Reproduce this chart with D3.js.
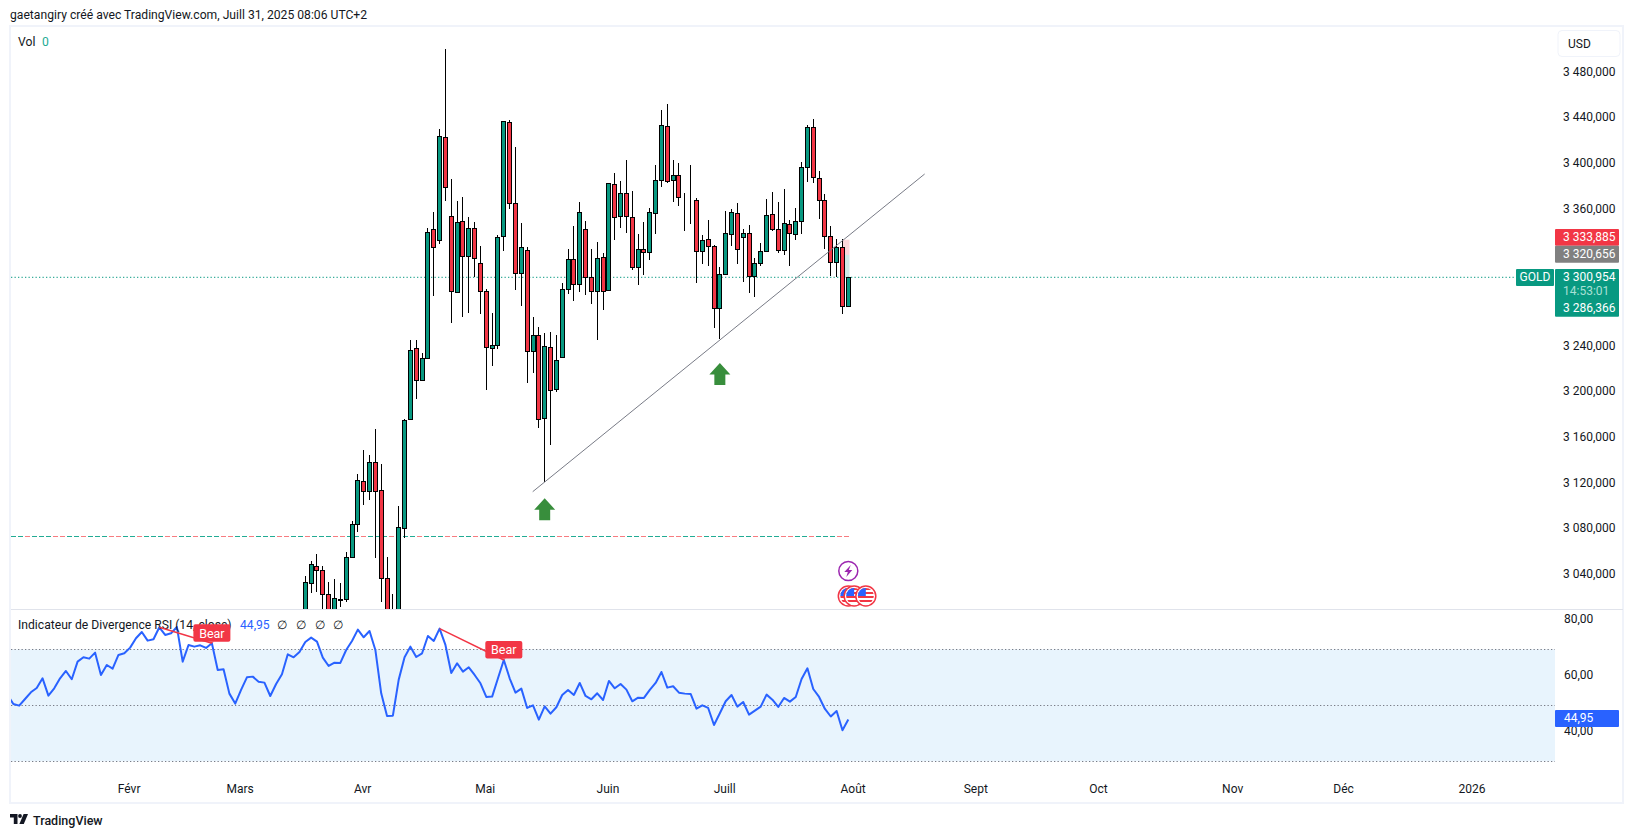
<!DOCTYPE html>
<html>
<head>
<meta charset="utf-8">
<script src="https://d3js.org/d3.v7.min.js"></script>
<style>
  body { margin: 0; background: #fff; }
  svg { display: block; }
  text { font-family: Roboto, "Open Sans", sans-serif; fill: #131722; }
</style>
</head>
<body>
<svg id="chart" width="1634" height="838"></svg>
<script>
// Daily candles, first visible bar = index 0
const opens = [2991.9,3033.3,3047.7,3044.2,3023.1,2996.2,3018.5,3018.7,3056.1,3085.0,
  3122.2,3113.4,3138.8,3114.3,3037.2,3007.6,3007.6,3081.5,3176.5,3238.7,
  3210.7,3230.0,3343.0,3333.4,3423.6,3354.4,3287.8,3350.0,3319.4,3343.9,
  3313.2,3288.7,3238.7,3241.4,3336.9,3436.8,3365.8,3304.5,3324.6,3236.1,
  3250.1,3177.4,3239.6,3203.1,3231.1,3290.4,3316.7,3294.8,3343.0,3301.0,
  3288.7,3318.5,3289.6,3382.5,3354.4,3374.6,3353.5,3309.7,3325.5,3322.9,
  3357.0,3386.0,3433.3,3386.0,3390.3,3368.4,3367.9,3368.4,3323.7,3334.3,
  3328.1,3273.8,3303.6,3338.6,3357.0,3336.5,3339.5,3301.8,3313.2,3323.7,
  3356.2,3343.0,3324.6,3347.4,3338.6,3350.0,3397.4,3432.4,3387.7,3368.4,
  3336.9,3314.1,3327.2,3276.1];
const highs = [3039.2,3052.0,3058.2,3047.7,3033.7,3036.5,3032.8,3059.9,3087.4,3128.6,
  3149.6,3145.2,3168.0,3137.3,3055.8,3023.1,3100.5,3176.8,3246.0,3246.0,
  3234.9,3343.9,3357.9,3430.7,3501.0,3386.8,3367.6,3371.1,3353.5,3349.1,
  3328.1,3290.7,3269.9,3337.8,3438.0,3438.8,3414.9,3348.5,3327.2,3266.2,
  3257.1,3252.1,3253.0,3250.4,3295.7,3325.8,3345.9,3366.7,3350.0,3325.8,
  3331.6,3322.5,3383.3,3392.1,3385.1,3403.5,3376.3,3338.6,3349.1,3361.4,
  3399.1,3447.3,3452.6,3403.5,3400.8,3374.6,3399.1,3370.2,3338.0,3350.9,
  3329.3,3309.7,3358.8,3360.5,3365.8,3343.0,3346.5,3317.6,3330.7,3369.3,
  3375.4,3366.7,3378.1,3351.2,3361.4,3401.7,3434.2,3439.4,3393.8,3373.7,
  3345.9,3334.2,3334.2,3301.5];
const lows = [2983.1,3024.3,3025.2,3005.0,2987.5,2991.9,3012.3,3016.4,3055.0,3077.7,
  3101.4,3105.8,3055.0,3016.6,2987.5,2983.1,3000.6,3072.7,3176.5,3194.6,
  3210.7,3230.0,3284.8,3330.4,3368.1,3261.2,3287.8,3266.4,3269.4,3301.0,
  3268.5,3202.2,3223.5,3238.4,3324.3,3361.1,3289.8,3276.1,3208.6,3217.3,
  3169.1,3121.8,3154.0,3200.4,3230.2,3286.6,3280.4,3288.1,3285.7,3277.8,
  3246.3,3272.6,3289.6,3333.9,3344.4,3340.0,3307.6,3294.5,3303.2,3316.4,
  3339.2,3380.4,3383.9,3367.2,3363.7,3341.8,3347.9,3296.2,3312.9,3311.1,
  3256.8,3246.6,3303.6,3328.4,3312.9,3297.1,3287.5,3283.9,3311.1,3322.9,
  3341.8,3322.0,3320.8,3311.1,3333.4,3339.2,3384.7,3383.3,3352.0,3325.8,
  3302.1,3301.5,3268.8,3275.2];
const closes = [3034.2,3049.4,3044.7,3023.1,2996.2,3020.2,3019.3,3055.6,3084.5,3123.0,
  3113.4,3138.8,3113.9,3037.2,2996.2,2996.2,3081.9,3175.6,3237.0,3210.7,
  3230.0,3340.4,3327.2,3424.5,3379.8,3288.7,3349.1,3319.4,3343.9,3317.6,
  3288.7,3239.6,3241.6,3336.0,3437.7,3365.8,3304.5,3327.2,3236.1,3250.1,
  3176.5,3240.5,3201.9,3228.5,3290.4,3316.7,3294.8,3357.9,3301.0,3288.7,
  3317.6,3288.7,3383.3,3353.5,3374.6,3354.4,3309.7,3325.5,3322.9,3357.9,
  3386.0,3434.2,3385.1,3390.3,3371.1,3368.6,3367.6,3323.7,3333.4,3328.1,
  3273.8,3303.6,3339.5,3357.9,3325.5,3339.5,3301.8,3313.2,3323.7,3355.3,
  3343.0,3324.6,3348.3,3339.5,3350.0,3397.4,3432.4,3388.6,3368.4,3336.9,
  3314.1,3327.2,3276.1,3301.0];

// RSI(14), starts 51 bars before index 0
const rsiStart = -51;
const rsiValues = [53.69,50.48,49.88,52.26,54.64,56.19,59.64,53.45,56.07,59.64,
  62.26,59.29,65.60,67.14,66.67,68.81,60.83,64.40,63.10,67.98,
  68.57,70.60,73.93,76.19,73.10,73.57,77.86,75.12,75.71,77.98,
  65.60,71.55,70.95,71.43,70.48,72.14,62.62,62.86,54.17,50.60,
  55.48,60.00,60.24,58.45,58.10,53.33,57.62,61.07,68.21,67.14,
  69.05,72.62,74.17,72.74,67.02,64.05,65.24,65.12,69.76,72.98,
  77.02,74.29,76.55,69.76,54.29,46.19,46.31,59.17,67.14,70.95,
  67.26,68.57,74.76,72.98,77.38,71.55,61.55,65.00,62.02,63.57,
  60.83,57.86,52.98,53.10,59.64,66.19,59.64,54.52,55.95,49.05,
  50.00,44.88,49.64,47.02,49.29,53.69,55.48,53.69,57.98,53.33,
  52.14,54.29,51.90,58.69,56.07,57.62,55.60,51.43,52.74,52.62,
  55.48,57.98,61.90,56.31,56.79,54.52,54.17,54.05,48.81,50.00,
  49.05,42.98,47.14,51.43,53.69,49.52,51.19,46.67,48.10,49.52,
  53.81,52.02,49.40,52.62,51.31,52.98,59.40,63.21,55.83,52.98,
  48.69,46.00,47.98,41.07,44.95];

const priceTicks = [3480, 3440, 3400, 3360, 3240, 3200, 3160, 3120, 3080, 3040];
const rsiTicks = [80, 60, 40];
const rsiLevels = [70, 50, 30];
const monthLabels = ["Févr", "Mars", "Avr", "Mai", "Juin", "Juill", "Août", "Sept", "Oct", "Nov", "Déc", "2026"];
const monthBars = [-30, -11, 10, 31, 52, 72, 94, 115, 136, 159, 178, 200];

const lastPrice = 3300.954;
const stopPrice = 3333.885;
const entryPrice = 3320.656;
const targetPrice = 3286.366;
const supportPrices = [3073.97];
const trendBars = [38.95, 106.08];
const trendPrices = [3113.06, 3391.49];
const arrowBars = [41, 71];
const arrowPrices = [3107.3, 3225.85];
const bearFrom = [-25, 23];
const bearTo = [-16, 34];
const flagBars = [93, 94, 96];

const red = "#f23645", green = "#089981", blue = "#2962ff";

// Panes
const W = 1634, left = 11, right = 1555, axisEnd = 1623;
const mainTop = 27, mainBottom = 609, rsiBottom = 803;

const svg = d3.select("#chart");
const defs = svg.append("defs");
defs.append("clipPath").attr("id", "clipMain").append("rect")
  .attr("x", left).attr("y", mainTop).attr("width", right - left).attr("height", mainBottom - mainTop);
defs.append("clipPath").attr("id", "clipRsi").append("rect")
  .attr("x", left).attr("y", mainBottom).attr("width", right - left).attr("height", 160);

// Scales
const x = d3.scaleLinear().domain([0, 93]).range([305.3, 848.3]);
const y = d3.scaleLinear().domain([3300.954, 3480]).range([277.3, 73.0]);
const yRsi = d3.scaleLinear().domain([30, 70]).range([761.3, 649.3]);
const px = i => Math.round(x(i) - 0.5) + 0.5;

const bars = d3.range(opens.length).map(i => ({
  i, open: opens[i], high: highs[i], low: lows[i], close: closes[i]
}));

// Frame
const frame = svg.append("g").attr("stroke", "#f0f3fa").attr("stroke-width", 2).attr("fill", "none");
frame.append("rect").attr("x", left - 1).attr("y", mainTop - 1)
  .attr("width", axisEnd - left + 1).attr("height", rsiBottom - mainTop + 1);
svg.append("line").attr("x1", left).attr("x2", axisEnd).attr("y1", mainBottom + 0.5).attr("y2", mainBottom + 0.5)
  .attr("stroke", "#e0e3eb");

svg.append("text").attr("x", 10).attr("y", 19).attr("font-size", 12.15)
  .text("gaetangiry créé avec TradingView.com, Juill 31, 2025 08:06 UTC+2");

// Main pane
const main = svg.append("g").attr("clip-path", "url(#clipMain)");

main.append("line").attr("x1", left).attr("x2", 1516)
  .attr("y1", y(lastPrice)).attr("y2", y(lastPrice))
  .attr("stroke", green).attr("stroke-dasharray", "1.3 2.2");

supportPrices.forEach(p => {
  const ly = Math.round(y(p)) + 0.5;
  main.append("line").attr("x1", left).attr("x2", 851).attr("y1", ly).attr("y2", ly)
    .attr("stroke", "#f77c80").attr("stroke-dasharray", "5 2");
  main.append("line").attr("x1", left).attr("x2", 851).attr("y1", ly).attr("y2", ly)
    .attr("stroke", "#22ab94").attr("stroke-dasharray", "5 2 5 9 5 2 5 2 5 16");
});

// Position tool shading behind the last bar
main.append("rect").attr("x", px(92)).attr("width", px(93) - px(92) + 1)
  .attr("y", y(stopPrice)).attr("height", y(entryPrice) - y(stopPrice)).attr("fill", "#f23645").attr("opacity", 0.2);
main.append("rect").attr("x", px(92)).attr("width", px(93) - px(92) + 1)
  .attr("y", y(entryPrice)).attr("height", y(lastPrice) - y(entryPrice)).attr("fill", "#089981").attr("opacity", 0.2);

// Candles
const candles = main.selectAll("g.candle").data(bars).enter().append("g").attr("class", "candle");
candles.append("line")
  .attr("x1", d => px(d.i)).attr("x2", d => px(d.i))
  .attr("y1", d => y(d.high)).attr("y2", d => y(d.low))
  .attr("stroke", "#000").attr("shape-rendering", "crispEdges");
candles.append("rect")
  .attr("x", d => px(d.i) - 2).attr("width", 4)
  .attr("y", d => Math.round(y(Math.max(d.open, d.close))) + 0.5)
  .attr("height", d => Math.max(0, Math.round(y(Math.min(d.open, d.close))) - Math.round(y(Math.max(d.open, d.close)))))
  .attr("fill", d => d.close >= d.open ? green : red)
  .attr("stroke", "#000").attr("shape-rendering", "crispEdges");

// Trend line
main.append("line")
  .attr("x1", x(trendBars[0])).attr("y1", y(trendPrices[0]))
  .attr("x2", x(trendBars[1])).attr("y2", y(trendPrices[1]))
  .attr("stroke", "#787b86").attr("stroke-width", 1);

// Arrows
main.selectAll("path.arrow").data(arrowBars).enter().append("path")
  .attr("class", "arrow")
  .attr("transform", (d, k) => `translate(${x(d)},${y(arrowPrices[k])})`)
  .attr("d", "M0,0L10.5,11.5L5.5,11.5L5.5,22L-5.5,22L-5.5,11.5L-10.5,11.5Z")
  .attr("fill", "#388e3c");

// Event icons at the foot of the pane
const flagG = main.selectAll("g.flag").data(flagBars).enter().append("g")
  .attr("class", "flag")
  .attr("transform", d => `translate(${x(d)},596)`);
defs.append("clipPath").attr("id", "clipFlag").append("circle").attr("r", 8);
flagG.append("circle").attr("r", 10).attr("fill", "#fff").attr("stroke", "#f23645").attr("stroke-width", 1.5);
const flagIn = flagG.append("g").attr("clip-path", "url(#clipFlag)");
flagIn.selectAll("rect.stripe").data([-8, -4, 0, 4]).enter().append("rect")
  .attr("class", "stripe").attr("x", -9).attr("y", d => d).attr("width", 18).attr("height", 2).attr("fill", "#f23645");
flagIn.append("rect").attr("x", -9).attr("y", -9).attr("width", 9).attr("height", 9).attr("fill", "#2962ff");

const bolt = main.append("g").attr("transform", `translate(${x(93)},571)`);
bolt.append("circle").attr("r", 9.5).attr("fill", "#fff").attr("stroke", "#9c27b0").attr("stroke-width", 1.5);
bolt.append("path").attr("d", "M2.5,-6L-4,1L-0.5,1L-2,6L4,-1L0.5,-1Z").attr("fill", "#9c27b0");

// Main pane legend
svg.append("text").attr("x", 18).attr("y", 46).attr("font-size", 12.15).text("Vol");
svg.append("text").attr("x", 42).attr("y", 46).attr("font-size", 12.15).style("fill", "#22ab94").text("0");

// Price axis
const fmtPrice = v => d3.format(",.3f")(v).replace(",", " ").replace(".", ",");
const yAxis = d3.axisRight(y).tickValues(priceTicks).tickSize(0).tickPadding(0).tickFormat(fmtPrice);
const yAxisG = svg.append("g").attr("transform", "translate(1563,-1.6)").call(yAxis);
yAxisG.select(".domain").remove();
yAxisG.selectAll("text").attr("font-size", 12).attr("font-family", null);

// USD box
svg.append("rect").attr("x", 1558).attr("y", 30.5).attr("width", 62).attr("height", 26).attr("rx", 4)
  .attr("fill", "#fff").attr("stroke", "#f0f3fa");
svg.append("text").attr("x", 1568).attr("y", 48).attr("font-size", 12).text("USD");

// Price tags
const tag = (tx, ty, tw, th, color) => svg.append("rect").attr("x", tx).attr("y", ty).attr("width", tw).attr("height", th).attr("rx", 1).attr("fill", color);
const tagText = (tx, cy, s, color, anchor) => svg.append("text").attr("x", tx).attr("y", cy).attr("dy", "0.36em")
  .attr("font-size", 12).attr("text-anchor", anchor || "start").style("fill", color || "#fff").text(s);
tag(1555, 229, 64, 16.7, red);
tagText(1563, 236.7, fmtPrice(stopPrice));
tag(1555, 245.7, 64, 17, "#808080");
tagText(1563, 253.5, fmtPrice(entryPrice));
tag(1516, 269, 38, 17, green);
tagText(1535, 276.8, "GOLD", "#fff", "middle");
tag(1555, 269, 64, 47.7, green);
tagText(1563, 276.8, fmtPrice(lastPrice));
tagText(1563, 291, "14:53:01", "#a8e0d5");
tagText(1563, 307.3, fmtPrice(targetPrice));

// RSI pane
svg.append("rect").attr("x", left).attr("width", right - left)
  .attr("y", yRsi(70)).attr("height", yRsi(30) - yRsi(70)).attr("fill", "#e8f4fd");
svg.selectAll("line.level").data(rsiLevels).enter().append("line")
  .attr("class", "level").attr("x1", left).attr("x2", right)
  .attr("y1", d => Math.round(yRsi(d)) + 0.5).attr("y2", d => Math.round(yRsi(d)) + 0.5)
  .attr("stroke", "#787b86").attr("stroke-dasharray", "1.3 2.2");

const rsiLine = d3.line().x((d, k) => x(rsiStart + k)).y(d => yRsi(d));
const rsiPane = svg.append("g").attr("clip-path", "url(#clipRsi)");
rsiPane.append("path").datum(rsiValues).attr("d", rsiLine)
  .attr("fill", "none").attr("stroke", blue).attr("stroke-width", 2).attr("stroke-linejoin", "round");

// Legend of the RSI pane
svg.append("text").attr("x", 18).attr("y", 628.5).attr("font-size", 12.15).text("Indicateur de Divergence RSI (14, close)");
svg.append("text").attr("x", 240).attr("y", 628.5).attr("font-size", 12.15).style("fill", blue).text("44,95");
svg.selectAll("text.na").data([282, 301, 320, 338]).enter().append("text")
  .attr("class", "na").attr("x", d => d).attr("y", 628.5).attr("font-size", 12.15).attr("text-anchor", "middle").text("∅");

// Divergence markers
const rsiAt = i => rsiValues[i - rsiStart];
bearFrom.forEach((from, k) => {
  const to = bearTo[k];
  const g = svg.append("g");
  g.append("line")
    .attr("x1", x(from)).attr("y1", yRsi(rsiAt(from)))
    .attr("x2", x(to)).attr("y2", yRsi(rsiAt(to)))
    .attr("stroke", red).attr("stroke-width", 1.5);
  const by = yRsi(rsiAt(to)) - 19;
  g.append("rect").attr("x", x(to) - 18.5).attr("y", by).attr("width", 37).attr("height", 17.5)
    .attr("rx", 2).attr("fill", red);
  g.append("path").attr("transform", `translate(${x(to)},${by + 17.5})`).attr("d", "M-2,0L2,0L0,1.5Z").attr("fill", red);
  g.append("text").attr("x", x(to)).attr("y", by + 8.8).attr("dy", "0.36em").attr("text-anchor", "middle")
    .attr("font-size", 12.5).style("fill", "#fff").text("Bear");
});

// RSI axis
const fmtRsi = v => d3.format(".2f")(v).replace(".", ",");
const rsiAxis = d3.axisRight(yRsi).tickValues(rsiTicks).tickSize(0).tickPadding(0).tickFormat(fmtRsi);
const rsiAxisG = svg.append("g").attr("transform", "translate(1564,-2.6)").call(rsiAxis);
rsiAxisG.select(".domain").remove();
rsiAxisG.selectAll("text").attr("font-size", 12).attr("font-family", null);
tag(1555, yRsi(44.95) - 9.5, 64, 17, blue);
tagText(1564, yRsi(44.95) - 1.6, fmtRsi(44.95));

// Time axis
const xAxis = d3.axisBottom(x).tickValues(monthBars).tickSize(0).tickPadding(0)
  .tickFormat((d, k) => monthLabels[k]);
const xAxisG = svg.append("g").attr("transform", "translate(-1.5,784)").call(xAxis);
xAxisG.select(".domain").remove();
xAxisG.selectAll("text").attr("font-size", 12).attr("font-family", null);

// Footer logo
const logo = svg.append("g").attr("transform", "translate(10,814)").attr("fill", "#131722");
logo.append("path").attr("d", "M0,0H7.5V10H3.8V3.6H0Z");
logo.append("circle").attr("cx", 10).attr("cy", 2).attr("r", 1.9);
logo.append("path").attr("d", "M13.6,0H18L13.8,10H9.4Z");
svg.append("text").attr("x", 33).attr("y", 825).attr("font-size", 12.5).attr("font-weight", 500).text("TradingView");
</script>
</body>
</html>
